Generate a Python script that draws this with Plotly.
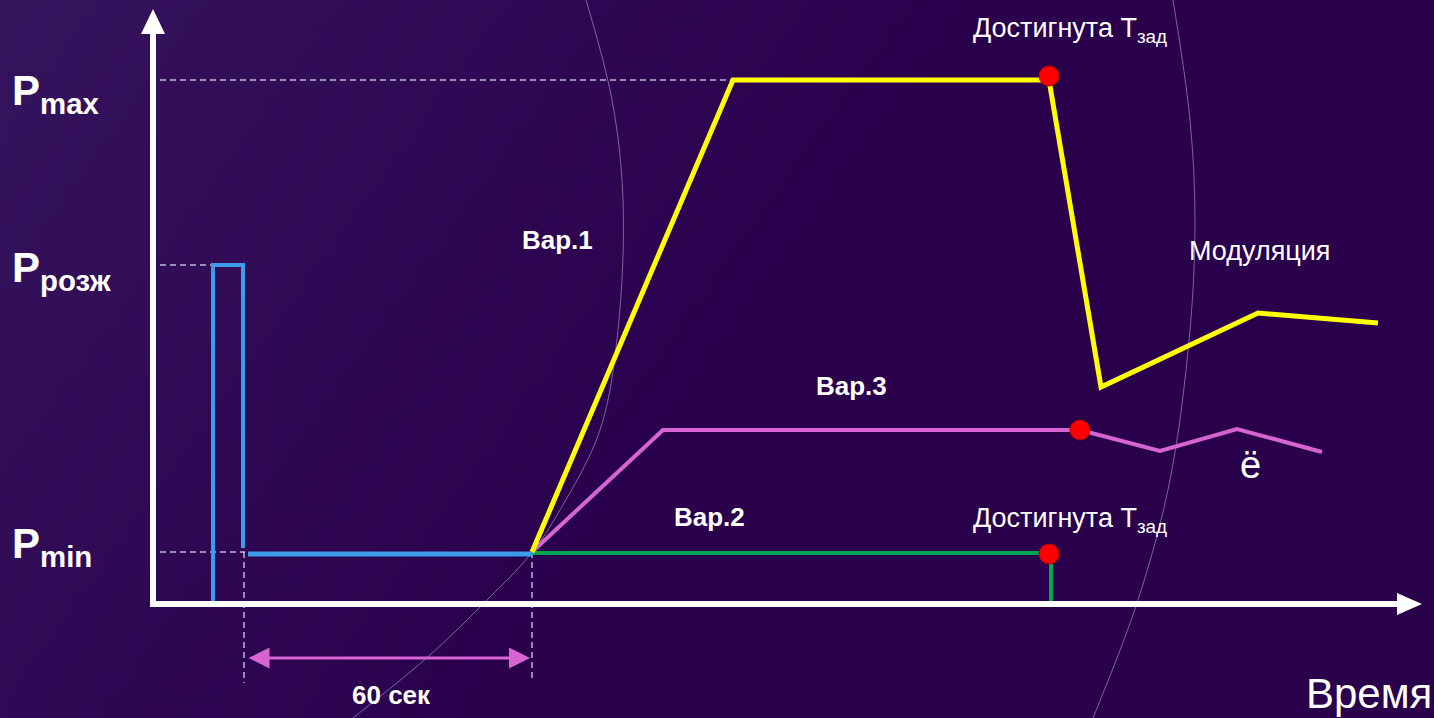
import base64, struct, zlib
import plotly.graph_objects as go

# ---------------- data (schematic units: x 0..1434, y 0..718 downward) ----------------
ign_x = [213, 213, 243, 243]          # ignition pulse (Pрозж)
ign_y = [603, 265, 265, 548]
pmin_x = [248, 532]                   # waiting at Pmin, 60 s
pmin_y = [554, 554]
var1_x = [532, 733, 1049, 1101, 1258, 1378]
var1_y = [552, 80, 80, 387, 313, 323]
var2_x = [532, 1049, 1051, 1051]
var2_y = [553, 553, 556, 603]
var3_x = [532, 663, 1080, 1160, 1237, 1322]
var3_y = [552, 430, 430, 451, 429, 452]
reached_x = [1049, 1080, 1049]
reached_y = [76, 430, 554]
arc1_x = [586, 612, 623, 618, 600, 560, 530, 487, 430, 353]
arc1_y = [0, 100, 200, 330, 430, 510, 555, 600, 655, 718]
arc2_x = [1173, 1190, 1195, 1190, 1170, 1138, 1093]
arc2_y = [0, 120, 220, 330, 480, 600, 718]

W, H = 1434, 718

# ---------------- background gradient image ----------------
def gradient_png(w=144, h=72):
    rows = []
    for j in range(h):
        row = bytearray([0])
        for i in range(w):
            fx, fy = i / (w - 1), j / (h - 1)
            t = max(0.0, 1.0 - (fx * 1.4 + fy * 0.5))
            t = min(1.0, t)
            r = int(42 + (54 - 42) * t)
            g = int(0 + (20 - 0) * t)
            b = int(77 + (94 - 77) * t)
            row += bytes([r, g, b])
        rows.append(bytes(row))
    raw = b''.join(rows)
    def chunk(tag, data):
        c = struct.pack('>I', len(data)) + tag + data
        return c + struct.pack('>I', zlib.crc32(tag + data) & 0xffffffff)
    png = b'\x89PNG\r\n\x1a\n' + chunk(b'IHDR', struct.pack('>IIBBBBB', w, h, 8, 2, 0, 0, 0)) \
        + chunk(b'IDAT', zlib.compress(raw, 9)) + chunk(b'IEND', b'')
    return 'data:image/png;base64,' + base64.b64encode(png).decode()

fig = go.Figure()

# decorative arcs
for ax_, ay_ in [(arc1_x, arc1_y), (arc2_x, arc2_y)]:
    fig.add_trace(go.Scatter(x=ax_, y=ay_, mode='lines', line=dict(color='rgba(190,180,215,0.55)', width=1, shape='spline'),
                             hoverinfo='skip', showlegend=False))

dash_col = 'rgba(215,215,240,0.85)'
# dashed guides
guides = [([160, 733], [80, 80]), ([160, 213], [265, 265]), ([160, 245], [552, 552]),
          ([244, 244], [552, 683]), ([532, 532], [552, 680])]
for gx, gy in guides:
    fig.add_trace(go.Scatter(x=gx, y=gy, mode='lines', line=dict(color=dash_col, width=1.5, dash='6px,4px'),
                             hoverinfo='skip', showlegend=False))

blue = '#3d9ce9'
fig.add_trace(go.Scatter(x=ign_x, y=ign_y, mode='lines', line=dict(color=blue, width=4), showlegend=False))
fig.add_trace(go.Scatter(x=pmin_x, y=pmin_y, mode='lines', line=dict(color=blue, width=5), showlegend=False))
fig.add_trace(go.Scatter(x=var2_x, y=var2_y, mode='lines', line=dict(color='#00a651', width=4), showlegend=False))
fig.add_trace(go.Scatter(x=var3_x, y=var3_y, mode='lines', line=dict(color='#d664d2', width=4), showlegend=False))
fig.add_trace(go.Scatter(x=var1_x, y=var1_y, mode='lines', line=dict(color='#ffff00', width=5), showlegend=False))
fig.add_trace(go.Scatter(x=reached_x, y=reached_y, mode='markers',
                         marker=dict(size=20, color='#ff0000', line=dict(color='#b80000', width=1)), showlegend=False))

# axes with arrowheads
shapes = [
    dict(type='line', x0=153, y0=606, x1=153, y1=30, line=dict(color='white', width=6)),
    dict(type='line', x0=150, y0=604, x1=1400, y1=604, line=dict(color='white', width=6)),
    dict(type='path', path='M 141 34 L 153 9 L 165 34 Z', fillcolor='white', line=dict(width=0)),
    dict(type='path', path='M 1397 593 L 1422 604 L 1397 615 Z', fillcolor='white', line=dict(width=0)),
]

font = 'Arial, Liberation Sans, sans-serif'
ann = []
def txt(x, y, s, size, bold=False, xa='left', ya='middle'):
    ann.append(dict(x=x, y=y, text=('<b>%s</b>' % s) if bold else s, showarrow=False, xanchor=xa, yanchor=ya,
                    font=dict(family=font, size=size, color='white')))

txt(10, 93, 'P<sub>max</sub>', 42, True)
txt(10, 270, 'P<sub>розж</sub>', 42, True)
txt(10, 546, 'P<sub>min</sub>', 42, True)
txt(557, 240, 'Вар.1', 26, True, 'center')
txt(851, 386, 'Вар.3', 26, True, 'center')
txt(709, 517, 'Вар.2', 26, True, 'center')
txt(391, 695, '60 сек', 26, True, 'center')
txt(971, 30, 'Достигнута Т<sub>зад</sub>', 27)
txt(971, 520, 'Достигнута Т<sub>зад</sub>', 27)
txt(1187, 251, 'Модуляция', 27)
txt(1250, 465, 'ё', 38, False, 'center')
txt(1434, 693, 'Время', 42, False, 'right')

ann.append(dict(x=530, y=658, ax=247, ay=658, xref='x', yref='y', axref='x', ayref='y', text='',
                showarrow=True, arrowhead=2, arrowside='end+start', arrowsize=1.4, arrowwidth=3,
                arrowcolor='#d664d2', standoff=0, startstandoff=0))

fig.update_layout(
    width=W, height=H, margin=dict(l=0, r=0, t=0, b=0),
    paper_bgcolor='#2a004d', plot_bgcolor='rgba(0,0,0,0)',
    xaxis=dict(range=[0, W], visible=False, fixedrange=True),
    yaxis=dict(range=[H, 0], visible=False, fixedrange=True),
    shapes=shapes, annotations=ann, showlegend=False,
    images=[dict(source=gradient_png(), xref='paper', yref='paper', x=0, y=1, sizex=1, sizey=1,
                 sizing='stretch', layer='below')],
)
fig.write_html('out.html', config={'displayModeBar': False})

# remove default page margin so the figure fills the window exactly
with open('out.html', encoding='utf-8') as f:
    html = f.read()
html = html.replace('<head>', '<head><style>html,body{margin:0;padding:0;overflow:hidden;background:#2a004d;}</style>', 1)
with open('out.html', 'w', encoding='utf-8') as f:
    f.write(html)
